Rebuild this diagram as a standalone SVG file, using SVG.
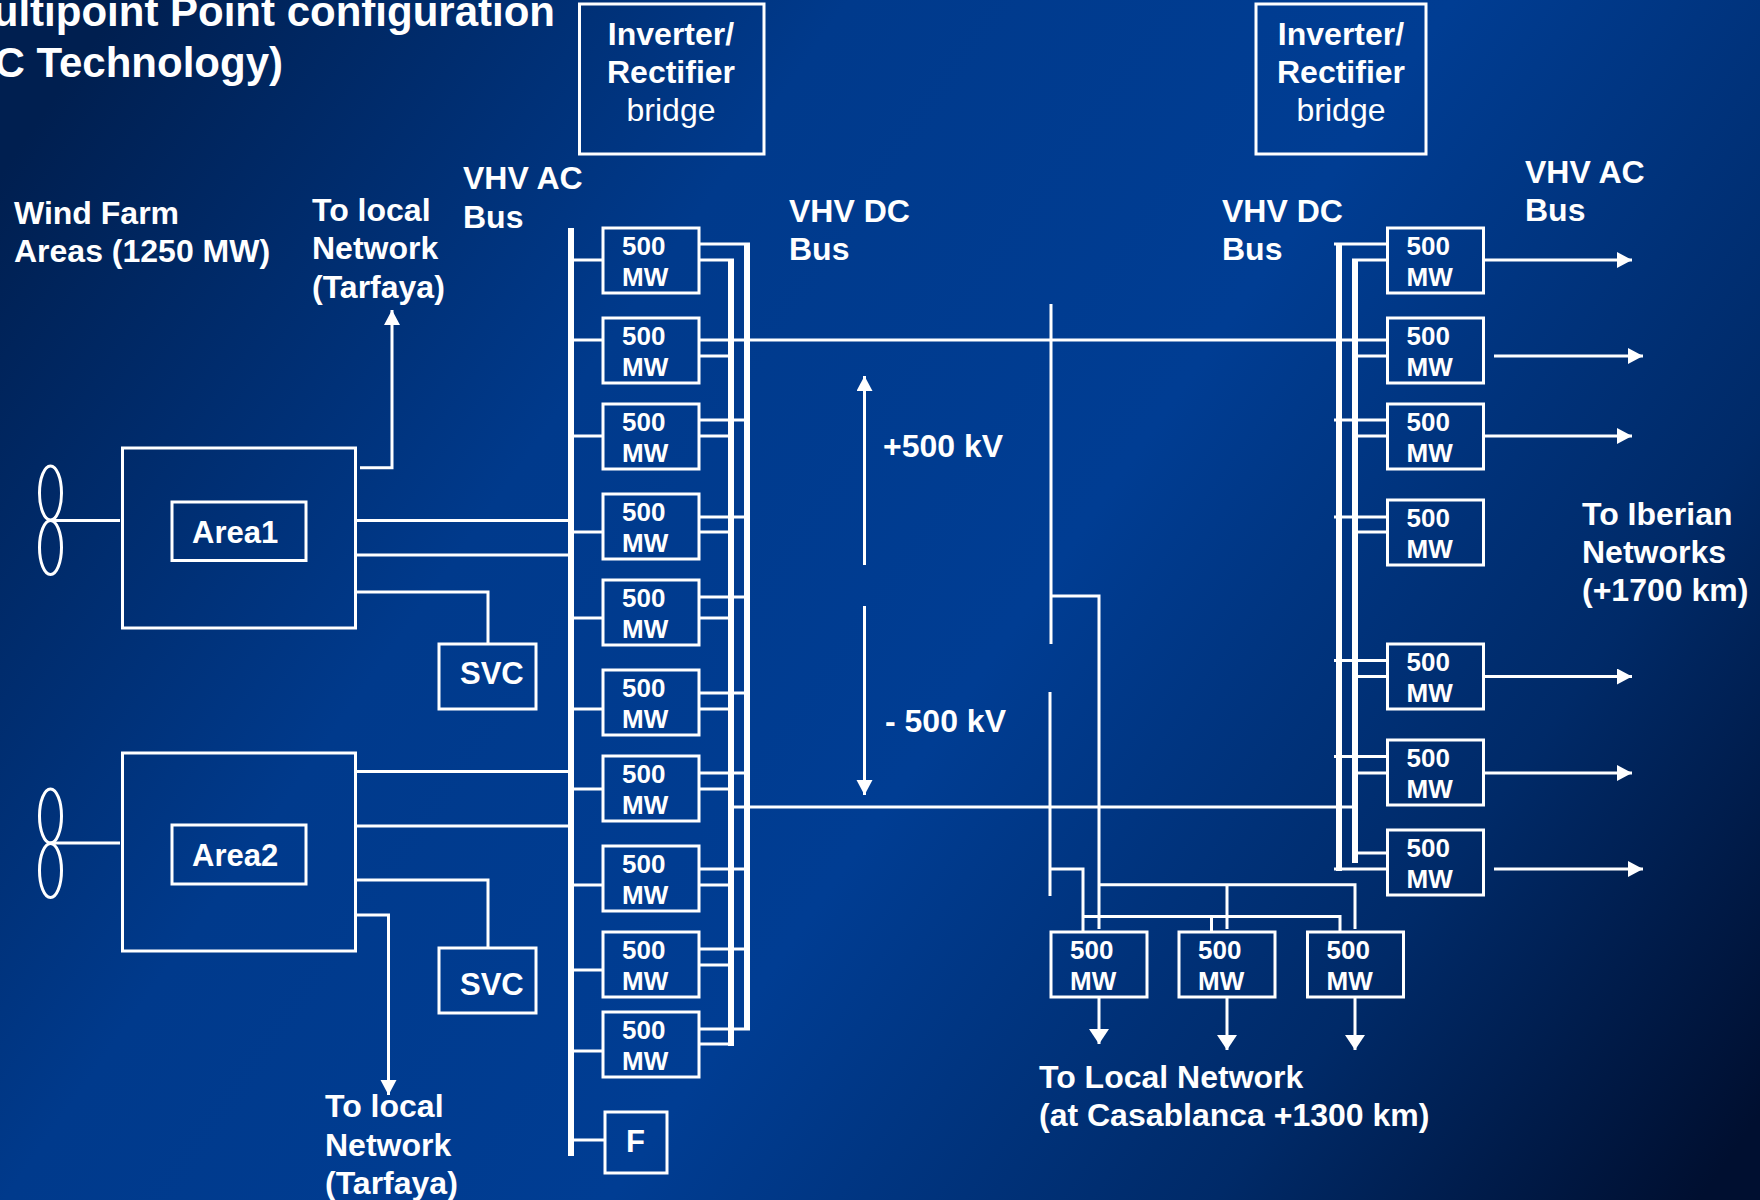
<svg xmlns="http://www.w3.org/2000/svg" width="1760" height="1200" viewBox="0 0 1760 1200">
<style>
text{font-family:"Liberation Sans",Arial,sans-serif;font-weight:700;fill:#fff;font-size:32px}
.r{font-weight:400}
.c{text-anchor:middle}
.t{font-size:42px}
.m{font-size:26px}
.a{font-size:31px}
.box{fill:none;stroke:#fff;stroke-width:3}
.l{fill:none;stroke:#fff;stroke-width:3}
.n{fill:none;stroke:#fff;stroke-width:3.5}
.b{fill:none;stroke:#fff;stroke-width:6}
.h{fill:#fff}
</style>
<defs>
<linearGradient id="bg" gradientUnits="userSpaceOnUse" x1="80" y1="60" x2="1700" y2="1200">
<stop offset="0" stop-color="#001f50"/>
<stop offset="0.3" stop-color="#003a8c"/>
<stop offset="0.55" stop-color="#003d93"/>
<stop offset="0.8" stop-color="#002a68"/>
<stop offset="1" stop-color="#000f30"/>
</linearGradient>
<marker id="ar" markerUnits="userSpaceOnUse" markerWidth="16" markerHeight="18" refX="15" refY="8" orient="auto"><path d="M0 0L15 8L0 16Z" class="h"/></marker>
<marker id="ad" markerUnits="userSpaceOnUse" markerWidth="16" markerHeight="22" refX="15" refY="10" orient="auto"><path d="M0 0L15 10L0 20Z" class="h"/></marker>
<g id="mod"><rect x="0" y="0" width="96" height="65" class="box"/><text x="19" y="26.5" class="m">500</text><text x="19" y="57.5" class="m">MW</text></g>
</defs>
<rect width="1760" height="1200" fill="url(#bg)"/>
<g id="title">
<text x="555" y="26" text-anchor="end" class="t">ultipoint Point configuration</text>
<text x="283" y="77" text-anchor="end" class="t">C Technology)</text>
</g>
<g id="connectors">
<path class="b" d="M571 228V1156M731 259V1046M747 243V1030M1339 243V871M1355 259V863"/>
<path class="l" d="M573 260H603M573 340H603M573 436H603M573 532H603M573 618H603M573 709H603M573 789H603M573 885H603M573 970H603M573 1051H603M573 1140H605"/>
<path class="l" d="M699 244H750M699 260H734M699 340H745M699 356H728M699 420H745M699 436H728M699 517H745M699 532H728M699 597H745M699 618H728M699 693H745M699 709H728M699 773H745M699 789H728M699 869H745M699 885H728M699 949H745M699 965H728M699 1029H750M699 1044H734"/>
<path class="l" d="M750 340H1387M733 807H1358"/>
<path class="l" d="M1334 244H1387M1352 260H1387M1358 356H1387M1334 420H1387M1358 436H1387M1334 517H1387M1358 532H1387M1334 660.500H1387M1358 676.500H1387M1334 756.500H1387M1358 773H1387M1358 853H1387M1334 869H1387"/>
<path class="l" d="M1051 304V644M1050 692V896"/>
<path class="l" d="M1051 596H1099V929M1050 869H1083V931M1083 916.500H1340V931M1211.500 916.500V931M1099 884.700H1355V929M1227 884.700V929"/>
<path class="l" marker-end="url(#ar)" d="M1484 260H1632"/>
<path class="l" marker-end="url(#ar)" d="M1494 356H1643"/>
<path class="l" marker-end="url(#ar)" d="M1484 436H1632"/>
<path class="l" marker-end="url(#ar)" d="M1484 676.500H1632"/>
<path class="l" marker-end="url(#ar)" d="M1484 773H1632"/>
<path class="l" marker-end="url(#ar)" d="M1494 869H1643"/>
<path class="l" marker-end="url(#ad)" d="M1099 997V1044"/>
<path class="l" marker-end="url(#ad)" d="M1227 997V1050"/>
<path class="l" marker-end="url(#ad)" d="M1355 997V1050"/>
<path class="l" d="M50 520.500H120M50 843H120"/>
<path class="l" d="M356 520.500H569M356 555H569M356 592H488V644M356 771.500H569M356 826H569M356 880H488V948"/>
<path class="l" marker-end="url(#ar)" d="M360 467.700H392V310"/>
<path class="l" marker-end="url(#ar)" d="M356 915H388.500V1095"/>
<path class="l" marker-end="url(#ar)" d="M864.500 565V376"/>
<path class="l" marker-end="url(#ar)" d="M864.500 606V795"/>
</g>
<g id="fan1"><ellipse cx="50.500" cy="493" rx="11" ry="27" class="box"/><ellipse cx="50.500" cy="547.500" rx="11" ry="27" class="box"/></g>
<g id="fan2"><ellipse cx="50.500" cy="816" rx="11" ry="27" class="box"/><ellipse cx="50.500" cy="870.500" rx="11" ry="27" class="box"/></g>
<g id="area1"><rect x="122.500" y="448" width="233" height="180" class="box"/><rect x="172" y="502" width="134" height="58.500" class="box"/><text x="192" y="543" class="a">Area1</text></g>
<g id="area2"><rect x="122.500" y="753" width="233" height="198" class="box"/><rect x="172" y="825" width="134" height="59" class="box"/><text x="192" y="866" class="a">Area2</text></g>
<g id="svc1"><rect x="439" y="644" width="97" height="65" class="box"/><text x="460" y="684" class="a">SVC</text></g>
<g id="svc2"><rect x="439" y="948" width="97" height="65" class="box"/><text x="460" y="995" class="a">SVC</text></g>
<g id="filter"><rect x="605" y="1112" width="62" height="61" class="box"/><text x="626" y="1152" class="a">F</text></g>
<g id="bridge1"><rect x="579.500" y="4" width="184.500" height="150" class="box"/><text x="671" y="45" class="c">Inverter/</text><text x="671" y="83" class="c">Rectifier</text><text x="671" y="121" class="c r">bridge</text></g>
<g id="bridge2"><rect x="1256" y="4" width="170" height="150" class="box"/><text x="1341" y="45" class="c">Inverter/</text><text x="1341" y="83" class="c">Rectifier</text><text x="1341" y="121" class="c r">bridge</text></g>
<g id="left-modules">
<use href="#mod" x="603" y="228"/><use href="#mod" x="603" y="318"/><use href="#mod" x="603" y="404"/><use href="#mod" x="603" y="494"/><use href="#mod" x="603" y="580"/><use href="#mod" x="603" y="670"/><use href="#mod" x="603" y="756"/><use href="#mod" x="603" y="846"/><use href="#mod" x="603" y="932"/><use href="#mod" x="603" y="1012"/>
</g>
<g id="right-modules">
<use href="#mod" x="1387.500" y="228"/><use href="#mod" x="1387.500" y="318"/><use href="#mod" x="1387.500" y="404"/><use href="#mod" x="1387.500" y="500"/><use href="#mod" x="1387.500" y="644"/><use href="#mod" x="1387.500" y="740"/><use href="#mod" x="1387.500" y="830"/>
</g>
<g id="bottom-modules">
<use href="#mod" x="1051" y="932"/><use href="#mod" x="1179" y="932"/><use href="#mod" x="1307.500" y="932"/>
</g>
<g id="labels">
<text x="14" y="224">Wind Farm</text><text x="14" y="262">Areas (1250 MW)</text>
<text x="312" y="221">To local</text><text x="312" y="259">Network</text><text x="312" y="298">(Tarfaya)</text>
<text x="463" y="189">VHV AC</text><text x="463" y="228">Bus</text>
<text x="789" y="222">VHV DC</text><text x="789" y="260">Bus</text>
<text x="1222" y="222">VHV DC</text><text x="1222" y="260">Bus</text>
<text x="1525" y="183">VHV AC</text><text x="1525" y="221">Bus</text>
<text x="1582" y="525">To Iberian</text><text x="1582" y="563">Networks</text><text x="1582" y="601">(+1700 km)</text>
<text x="325" y="1117">To local</text><text x="325" y="1156">Network</text><text x="325" y="1194">(Tarfaya)</text>
<text x="1039" y="1088">To Local Network</text><text x="1039" y="1126">(at Casablanca +1300 km)</text>
<text x="883" y="457">+500 kV</text><text x="885" y="732">- 500 kV</text>
</g>
</svg>
